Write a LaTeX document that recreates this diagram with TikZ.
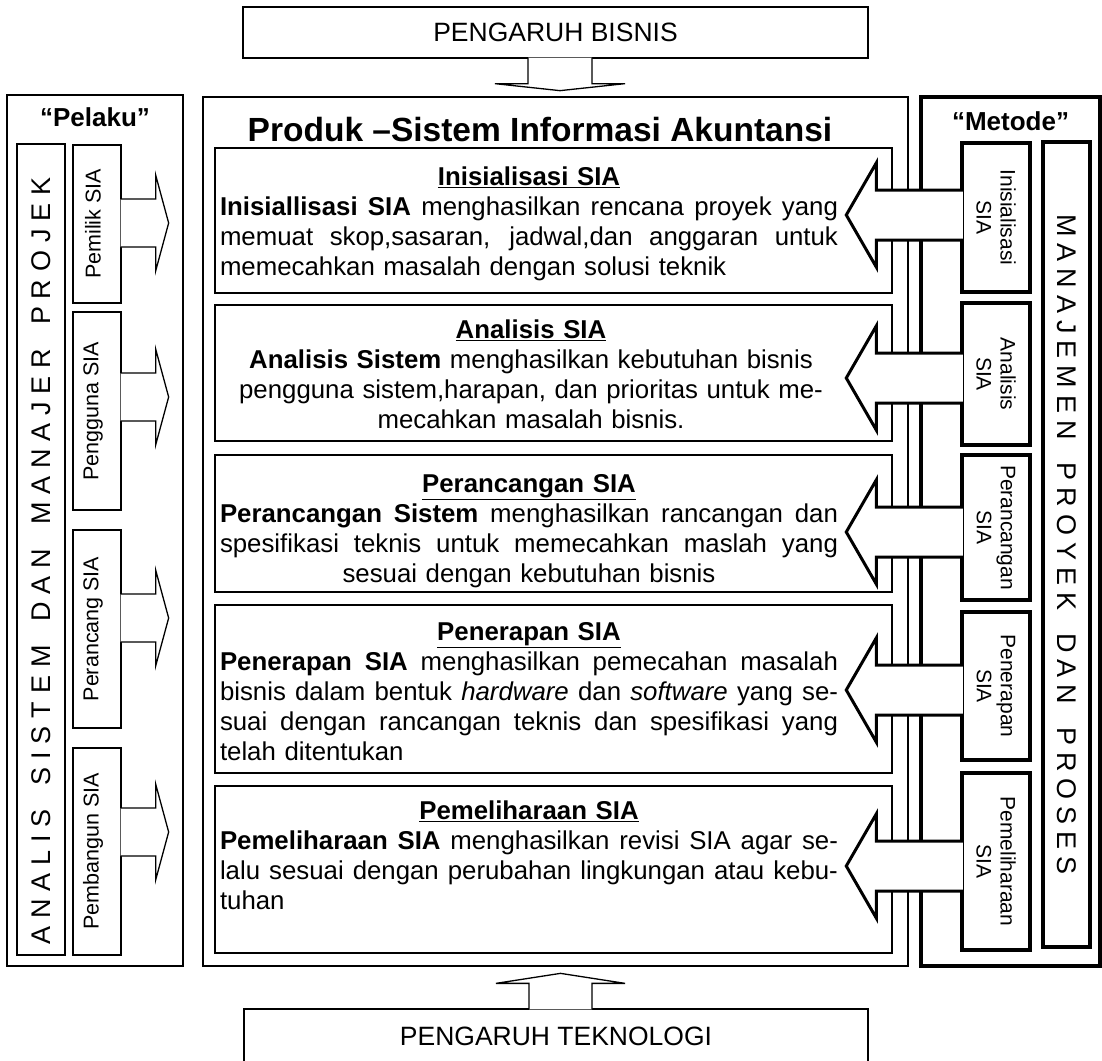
\documentclass[tikz,border=0pt]{standalone}
\usepackage{fontspec}
\setmainfont{Liberation Sans}
\usetikzlibrary{positioning}

\newcommand{\jline}[1]{\makebox[618pt][s]{\spaceskip=.28em plus 1fil\xspaceskip=\spaceskip\relax #1}}
\newcommand{\lline}[1]{\makebox[618pt][l]{#1}}
\newcommand{\wgap}{\hspace{16pt plus 1fil}}
\newcommand{\spreadout}[2]{\makebox[#1][s]{\spaceskip=0pt plus 1fil\relax #2}}

\newcommand{\pelakuarrow}[2]{%
  \filldraw[pelarr] ([shift={(-1,{#2-24})}]#1.east) -- ++(35,0) -- ++(0,-24)
    -- ++(13,48) -- ++(-13,48) -- ++(0,-24) -- ++(-35,0);}
\newcommand{\metodearrow}[2]{%
  \filldraw[metarr] ([shift={(2.5,{#2-25})}]#1.west) -- ++(-86.5,0) -- ++(0,-27)
    -- ++(-30,52) -- ++(30,52) -- ++(0,-27) -- ++(86.5,0);}

\begin{document}
\begin{tikzpicture}[
  x=1pt, y=-1pt,
  thinbox/.style={draw, line width=1.3pt, inner sep=0pt},
  secbox/.style={draw, line width=2pt, minimum width=677pt},
  thickbox/.style={draw, line width=3.5pt},
  pelarr/.style={draw, fill=white, line width=1.3pt},
  metarr/.style={draw, fill=white, line width=3pt},
  infl/.style={thinbox, font=\fontsize{26.5}{30}\selectfont},
  heading/.style={inner sep=0pt, font=\fontsize{26}{28}\selectfont\bfseries},
  sectext/.style={anchor=north, inner sep=0pt, text width=618pt, align=center,
    font=\fontsize{25.8}{30}\selectfont},
  rolebox/.style={thinbox, minimum width=48pt},
  rolelabel/.style={rotate=90, inner sep=0pt, font=\fontsize{21.5}{24}\selectfont},
  stepbox/.style={thickbox, minimum width=68pt},
  steplabel/.style={rotate=-90, inner sep=0pt, align=center, font=\fontsize{21}{24}\selectfont},
  spread/.style={inner sep=0pt, font=\fontsize{27}{30}\selectfont}
]
  \useasboundingbox (0,0) rectangle (1102,1060);

  \node[infl, minimum width=625pt, minimum height=51pt] (bisnis) at (555.5,32.5) {PENGARUH BISNIS};
  \node[infl, minimum width=624pt, minimum height=54pt] (teknologi) at (556,1036) {PENGARUH TEKNOLOGI};

  \node[thinbox, minimum width=176pt, minimum height=871pt] (pelaku) at (95,530.5) {};
  \node[thinbox, minimum width=705pt, minimum height=869pt] (produk) at (555.5,531.5) {};
  \node[thickbox, minimum width=179pt, minimum height=869pt] (metode) at (1010.5,531.5) {};

  \node[heading, below=13pt of pelaku.north] (pelakutitle) {“Pelaku”};
  \node[heading, below=16pt of metode.north] (metodetitle) {“Metode”};
  \node[heading, font=\fontsize{33.5}{36}\selectfont\bfseries] (produktitle) at (540,130) {Produk --Sistem Informasi Akuntansi};

  \node[thinbox, minimum width=48pt, minimum height=811pt] (analis) at (41,549.5) {};
  \node[spread, rotate=90] (analistxt) at (41,561) {\spreadout{767pt}{A N A L I S\wgap S I S T E M\wgap D A N\wgap M A N A J E R\wgap P R O J E K}};

  \node[rolebox, minimum height=158pt] (pemilik) at (97,224) {};
  \node[rolebox, minimum height=198pt] (pengguna) at (97,411) {};
  \node[rolebox, minimum height=198pt] (perancang) at (97,629) {};
  \node[rolebox, minimum height=207pt] (pembangun) at (97,851.5) {};
  \node[rolelabel] at ([xshift=-4pt]pemilik.center) {Pemilik SIA};
  \node[rolelabel] at ([xshift=-4pt]pengguna.center) {Pengguna SIA};
  \node[rolelabel] at ([xshift=-4pt]perancang.center) {Perancang SIA};
  \node[rolelabel] at ([xshift=-4pt]pembangun.center) {Pembangun SIA};
  \pelakuarrow{pemilik}{-1}
  \pelakuarrow{pengguna}{-14}
  \pelakuarrow{perancang}{-11}
  \pelakuarrow{pembangun}{-19.5}

  \node[secbox, minimum height=145pt] (ini) at (553.5,220.5) {};
  \node[secbox, minimum height=136pt] (ana) at (553.5,373) {};
  \node[secbox, minimum height=137pt] (pra) at (553.5,523.5) {};
  \node[secbox, minimum height=168pt] (pne) at (553.5,689) {};
  \node[secbox, minimum height=167pt] (pml) at (553.5,869.5) {};

  \node[sectext] (initxt) at (529,167) {\underline{\textbf{Inisialisasi SIA}}\\
    \jline{\textbf{Inisiallisasi SIA} menghasilkan rencana proyek yang}\\
    \jline{memuat skop,sasaran, jadwal,dan anggaran untuk}\\
    \lline{memecahkan masalah dengan solusi teknik}};
  \node[sectext] (anatxt) at (531,320) {\underline{\textbf{Analisis SIA}}\\
    \textbf{Analisis Sistem} menghasilkan kebutuhan bisnis\\
    pengguna sistem,harapan, dan prioritas untuk me-\\
    mecahkan masalah bisnis.};
  \node[sectext] (pratxt) at (529,474) {\underline{\textbf{Perancangan SIA}}\\
    \jline{\textbf{Perancangan Sistem} menghasilkan rancangan dan}\\
    \jline{spesifikasi teknis untuk memecahkan maslah yang}\\
    sesuai dengan kebutuhan bisnis};
  \node[sectext] (pnetxt) at (529,622) {\underline{\textbf{Penerapan SIA}}\\
    \jline{\textbf{Penerapan SIA} menghasilkan pemecahan masalah}\\
    \jline{bisnis dalam bentuk \textit{hardware} dan \textit{software} yang se-}\\
    \jline{suai dengan rancangan teknis dan spesifikasi yang}\\
    \lline{telah ditentukan}};
  \node[sectext] (pmltxt) at (529,801) {\underline{\textbf{Pemeliharaan SIA}}\\
    \jline{\textbf{Pemeliharaan SIA} menghasilkan revisi SIA agar se-}\\
    \jline{lalu sesuai dengan perubahan lingkungan atau kebu-}\\
    \lline{tuhan}};

  \node[thickbox, minimum width=47pt, minimum height=805pt] (manajemen) at (1066.5,544.5) {};
  \node[spread, rotate=-90] (manajementxt) at (manajemen) {\spreadout{660pt}{M A N A J E M E N\wgap P R O Y E K\wgap D A N\wgap P R O S E S}};

  \node[stepbox, minimum height=149pt] (mini) at (996,217.5) {};
  \node[stepbox, minimum height=142pt] (mana) at (996,374) {};
  \node[stepbox, minimum height=145pt] (mper) at (996,527.5) {};
  \node[stepbox, minimum height=148pt] (mpen) at (996,686) {};
  \node[stepbox, minimum height=177pt] (mpem) at (996,861.5) {};
  \node[steplabel] at (mini) {Inisialisasi\\SIA};
  \node[steplabel] at (mana) {Analisis\\SIA};
  \node[steplabel] at (mper) {Perancangan\\SIA};
  \node[steplabel] at (mpen) {Penerapan\\SIA};
  \node[steplabel] at (mpem) {Pemeliharaan\\SIA};
  \metodearrow{mini}{-2.5}
  \metodearrow{mana}{4}
  \metodearrow{mper}{4.5}
  \metodearrow{mpen}{4}
  \metodearrow{mpem}{4.5}

  \filldraw[pelarr] ([shift={(-27.5,-1)}]bisnis.south) -- ++(0,26) -- ++(-33,0)
    -- ++(65,7) -- ++(65,-7) -- ++(-33,0) -- ++(0,-26);
  \filldraw[pelarr] ([shift={(-27,1)}]teknologi.north) -- ++(0,-26) -- ++(-33,0)
    -- ++(64.5,-10) -- ++(64.5,10) -- ++(-33,0) -- ++(0,26);
\end{tikzpicture}
\end{document}
